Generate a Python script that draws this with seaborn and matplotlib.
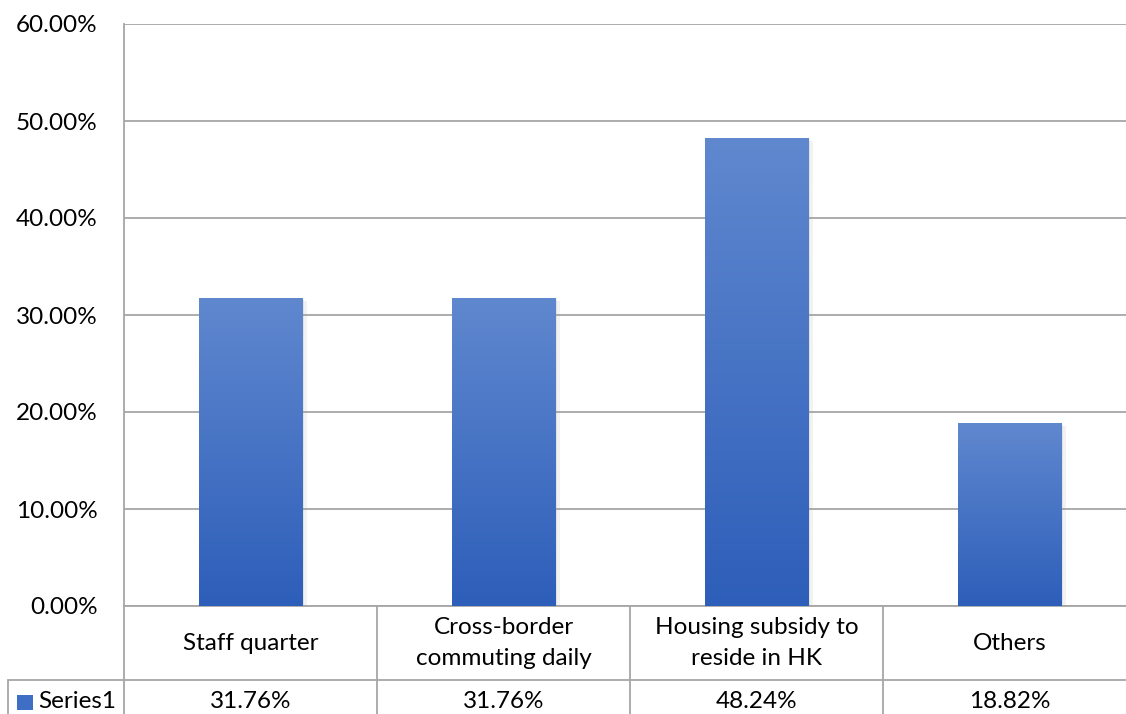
import numpy as np
import matplotlib
matplotlib.use("Agg")
import matplotlib.pyplot as plt
import matplotlib.transforms as mtransforms
import matplotlib.patheffects as pe
from matplotlib.colors import LinearSegmentedColormap
from matplotlib.patches import Rectangle
import pandas as pd
import seaborn as sns

# Data
categories = ["Staff quarter", "Cross-border\ncommuting daily",
              "Housing subsidy to\nreside in HK", "Others"]
values = [0.3176, 0.3176, 0.4824, 0.1882]
series_name = "Series1"
y_ticks = [0.0, 0.1, 0.2, 0.3, 0.4, 0.5, 0.6]

sns.set_theme(style="white")
plt.rcParams["font.family"] = ["Lato", "DejaVu Sans"]

W, H = 1126, 714
GRID = "#A6A6A6"
FS = 17.5

fig = plt.figure(figsize=(W / 100, H / 100), dpi=100)
ax = fig.add_axes([124 / W, 108 / H, 1012 / W, 582 / H])

df = pd.DataFrame({"category": categories, "value": values})
sns.barplot(data=df, x="category", y="value", ax=ax, width=0.41,
            color="#3F6FC4", saturation=1, edgecolor="none", zorder=3)

ax.set_xlim(-0.5, 3.5)
ax.set_ylim(0, 0.6)

# Vertical gradient fill with a soft drop shadow for each bar
cmap = LinearSegmentedColormap.from_list("bar", ["#2D5EB9", "#6088CF"])
grad = np.linspace(0, 1, 256).reshape(-1, 1)
for patch in ax.patches:
    x0, y0 = patch.get_x(), patch.get_y()
    w, h = patch.get_width(), patch.get_height()
    patch.set_path_effects([
        pe.SimplePatchShadow(offset=(3, -2), shadow_rgbFace="#9A9A9A", alpha=0.12),
        pe.SimplePatchShadow(offset=(1.5, -1), shadow_rgbFace="#9A9A9A", alpha=0.18),
        pe.Normal(),
    ])
    im = ax.imshow(grad, cmap=cmap, origin="lower", aspect="auto",
                   extent=(x0, x0 + w, y0, y0 + h), zorder=4)
    im.set_clip_path(patch)

ax.set_xlim(-0.5, 3.5)
ax.set_ylim(0, 0.6)

# Axes styling
ax.set_axisbelow(True)
ax.yaxis.grid(True, color=GRID, lw=1.3)
ax.xaxis.grid(False)
for side in ["top", "right"]:
    ax.spines[side].set_visible(False)
for side in ["left", "bottom"]:
    ax.spines[side].set_color(GRID)
    ax.spines[side].set_linewidth(1.3)

ax.set_yticks(y_ticks)
ax.set_yticklabels([f"{t * 100:.2f}%" for t in y_ticks])
ax.tick_params(axis="y", length=0, pad=19, labelsize=FS, labelcolor="black")
ax.set_xticks([])
ax.set_xlabel("")
ax.set_ylabel("")

# Data table beneath the plot area
trans = mtransforms.blended_transform_factory(ax.transData, ax.transAxes)
px = 1 / 582.0
row1_bot = -74 * px
row2_bot = -160 * px
col_w_px = 1012 / 4
table_left = -0.5 - 116 / col_w_px

line_kw = dict(color=GRID, lw=1.3, transform=trans, clip_on=False)
n = len(categories)
for i in range(n + 1):
    ax.plot([i - 0.5, i - 0.5], [0, row2_bot], **line_kw)
ax.plot([table_left, n - 0.5], [row1_bot, row1_bot], **line_kw)
ax.plot([table_left, table_left], [row1_bot, row2_bot], **line_kw)

row1_mid = -37 * px
row2_mid = row1_bot - 22 * px
for i, (cat, v) in enumerate(zip(categories, values)):
    ax.text(i, row1_mid, cat, transform=trans, ha="center", va="center",
            fontsize=FS, color="black", linespacing=1.55, clip_on=False)
    ax.text(i, row2_mid, f"{v * 100:.2f}%", transform=trans, ha="center",
            va="center", fontsize=FS, color="black", clip_on=False)

# Legend key inside the table
key_x = table_left + 9 / col_w_px
key_size = 15 * px
ax.add_patch(Rectangle((key_x, row2_mid - key_size / 2), 16 / col_w_px, key_size,
                       transform=trans, facecolor="#3F6FC4", edgecolor="none",
                       clip_on=False))
ax.text(key_x + 21 / col_w_px, row2_mid, series_name, transform=trans,
        ha="left", va="center", fontsize=FS, color="black", clip_on=False)

fig.savefig("out.png", dpi=100)
